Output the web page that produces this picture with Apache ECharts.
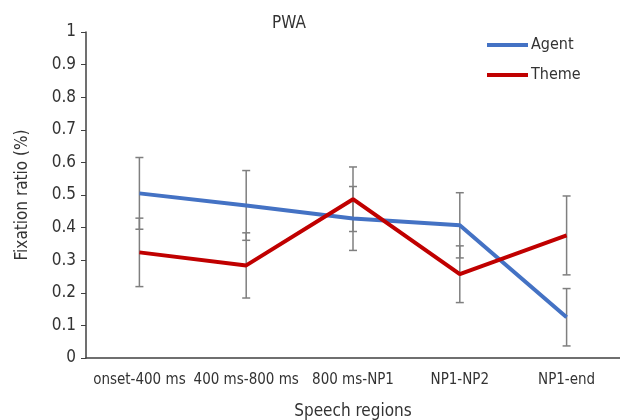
<!DOCTYPE html>
<html>
<head>
<meta charset="utf-8">
<script src="https://cdn.jsdelivr.net/npm/echarts@6/dist/echarts.min.js"></script>
<style>html,body{margin:0;padding:0;background:#fff}#c{width:620px;height:420px}</style>
</head>
<body>
<div id="c"></div>
<script>
var categories = ['onset-400 ms', '400 ms-800 ms', '800 ms-NP1', 'NP1-NP2', 'NP1-end'];
var agent = [0.505, 0.468, 0.428, 0.407, 0.125];
var agentErr = [0.110, 0.107, 0.098, 0.100, 0.088];
var theme = [0.324, 0.284, 0.487, 0.257, 0.376];
var themeErr = [0.105, 0.100, 0.099, 0.087, 0.121];
var yTicks = [0, 0.1, 0.2, 0.3, 0.4, 0.5, 0.6, 0.7, 0.8, 0.9, 1];

var FONT = '"DejaVu Sans Condensed", "Liberation Sans", sans-serif';
function errData(vals, errs) {
  return vals.map(function (v, i) { return [i, v - errs[i], v + errs[i]]; });
}
function renderErr(params, api) {
  var x = api.value(0);
  var lo = api.coord([x, api.value(1)]);
  var hi = api.coord([x, api.value(2)]);
  var hw = 4;
  var st = { stroke: '#7f7f7f', lineWidth: 1.5 };
  return {
    type: 'group',
    children: [
      { type: 'line', shape: { x1: lo[0], y1: lo[1], x2: hi[0], y2: hi[1] }, style: st },
      { type: 'line', shape: { x1: lo[0] - hw, y1: lo[1], x2: lo[0] + hw, y2: lo[1] }, style: st },
      { type: 'line', shape: { x1: hi[0] - hw, y1: hi[1], x2: hi[0] + hw, y2: hi[1] }, style: st }
    ]
  };
}
var chart = echarts.init(document.getElementById('c'));
chart.setOption({
  animation: false,
  backgroundColor: '#fff',
  title: {
    text: 'PWA', left: 284, top: 10, textAlign: 'center',
    textStyle: { fontFamily: FONT, fontSize: 17, fontWeight: 'normal', color: '#333' }
  },
  legend: {
    orient: 'vertical', left: 482, top: 32, itemWidth: 41, itemHeight: 4, itemGap: 14,
    icon: 'rect',
    data: ['Agent', 'Theme'],
    textStyle: { fontFamily: FONT, fontSize: 16, color: '#333', lineHeight: 16, padding: [0, 0, 0, -2] }
  },
  grid: { left: 86, right: 0, top: 32, bottom: 62, containLabel: false, outerBoundsMode: 'none' },
  xAxis: {
    type: 'category', data: categories, boundaryGap: true,
    name: 'Speech regions', nameLocation: 'middle', nameGap: 45,
    nameTextStyle: { fontFamily: FONT, fontSize: 17, color: '#333' },
    axisLine: { lineStyle: { color: '#404040', width: 1.5 } },
    axisTick: { show: false },
    axisLabel: { fontFamily: FONT, fontSize: 15, color: '#333', margin: 15, interval: 0 }
  },
  yAxis: {
    type: 'value', min: yTicks[0], max: yTicks[yTicks.length - 1], interval: 0.1,
    name: 'Fixation ratio (%)', nameLocation: 'middle', nameGap: 55,
    nameTextStyle: { fontFamily: FONT, fontSize: 17, color: '#333' },
    axisLine: { show: true, lineStyle: { color: '#404040', width: 1.5 } },
    axisTick: { show: true, length: 5, lineStyle: { color: '#404040', width: 1 } },
    splitLine: { show: false },
    axisLabel: {
      fontFamily: FONT, fontSize: 17, color: '#333', margin: 10,
      formatter: function (v) { return String(Math.round(v * 10) / 10); }
    }
  },
  series: [
    { type: 'custom', name: 'agentErr', data: errData(agent, agentErr), renderItem: renderErr, z: 1, silent: true },
    { type: 'custom', name: 'themeErr', data: errData(theme, themeErr), renderItem: renderErr, z: 1, silent: true },
    { type: 'line', name: 'Agent', data: agent, showSymbol: false, symbol: 'none', z: 3,
      lineStyle: { color: '#4472C4', width: 4 }, itemStyle: { color: '#4472C4' } },
    { type: 'line', name: 'Theme', data: theme, showSymbol: false, symbol: 'none', z: 4,
      lineStyle: { color: '#C00000', width: 4 }, itemStyle: { color: '#C00000' } }
  ]
});
</script>
</body>
</html>
